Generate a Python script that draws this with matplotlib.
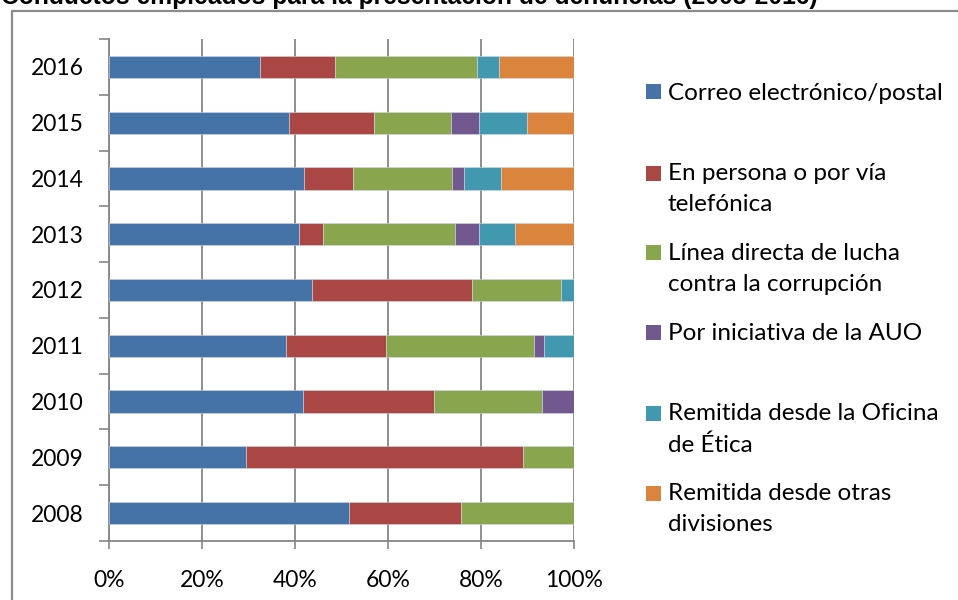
import matplotlib
matplotlib.use("Agg")
import matplotlib.pyplot as plt
import matplotlib.ticker as mticker
from matplotlib.patches import Rectangle
import numpy as np

# ---------------------------------------------------------------------------
# Data (share of complaints per channel, %)
# ---------------------------------------------------------------------------
YEARS = ["2008", "2009", "2010", "2011", "2012", "2013", "2014", "2015", "2016"]

correo  = [51.7, 29.4, 41.7, 38.1, 43.7, 40.9, 41.9, 38.7, 32.4]
persona = [24.1, 59.6, 28.1, 21.4, 34.4,  5.1, 10.5, 18.3, 16.3]
linea   = [24.2, 11.0, 23.4, 32.0, 19.0, 28.4, 21.3, 16.5, 30.4]
auo     = [ 0.0,  0.0,  6.8,  2.1,  0.0,  5.2,  2.6,  6.1,  0.0]
etica   = [ 0.0,  0.0,  0.0,  6.4,  2.9,  7.7,  7.9, 10.3,  4.7]
otras   = [ 0.0,  0.0,  0.0,  0.0,  0.0, 12.7, 15.8, 10.1, 16.2]

SERIES = [correo, persona, linea, auo, etica, otras]
LABELS = [
    "Correo electrónico/postal",
    "En persona o por vía\ntelefónica",
    "Línea directa de lucha\ncontra la corrupción",
    "Por iniciativa de la AUO",
    "Remitida desde la Oficina\nde Ética",
    "Remitida desde otras\ndivisiones",
]
COLORS = ["#4572A7", "#AA4643", "#89A54E", "#71588F", "#4198AF", "#DB843D"]

TITLE = "Conductos empleados para la presentación de denuncias (2008-2016)"
XTICKS = [0, 20, 40, 60, 80, 100]

GRID = "#868686"
FONT = "Lato"
FS = 16.5

W, H = 958, 600
fig = plt.figure(figsize=(W / 100, H / 100), dpi=100)
fig.patch.set_facecolor("white")

# chart area border (extends past right/bottom edges)
fig.add_artist(Rectangle((12 / W, -0.1), 2.0, 1.1 - 11 / H,
                         transform=fig.transFigure, fill=False,
                         edgecolor="#8c8c8c", lw=1.6))

# title, mostly cropped at the top as in the source image
fig.text(1 / W, 1 - 4 / H, TITLE, ha="left", va="baseline",
         fontsize=17.7, fontweight="bold", family="Liberation Sans")

ax = fig.add_axes([109 / W, 1 - 541 / H, 465 / W, 502 / H])

y = np.arange(len(YEARS))
left = np.zeros(len(YEARS))
for vals, col in zip(SERIES, COLORS):
    vals = np.array(vals)
    ax.barh(y, vals, left=left, height=0.4, color=col,
            edgecolor="#d0d8e4", lw=0.4, zorder=3)
    left += vals

ax.set_xlim(0, 100)
ax.set_ylim(-0.5, len(YEARS) - 0.5)

# x axis
ax.set_xticks(XTICKS)
ax.xaxis.set_major_formatter(mticker.FuncFormatter(lambda v, _: f"{v:.0f}%"))
ax.tick_params(axis="x", length=6, width=1.2, color=GRID, pad=15,
               labelsize=FS)
ax.grid(axis="x", color=GRID, lw=1.3, zorder=0)

# y axis: ticks at category boundaries, labels at centres
ax.set_yticks(np.arange(-0.5, len(YEARS)), minor=False)
ax.set_yticklabels([])
ax.set_yticks(y, minor=True)
ax.set_yticklabels(YEARS, minor=True)
ax.tick_params(axis="y", which="major", length=7, width=1.2, color=GRID)
ax.tick_params(axis="y", which="minor", length=0, pad=18, labelsize=FS)

for lab in ax.get_xticklabels() + ax.get_yticklabels(minor=True):
    lab.set_family(FONT)

for s in ["top", "right"]:
    ax.spines[s].set_visible(False)
for s in ["left", "bottom"]:
    ax.spines[s].set_color(GRID)
    ax.spines[s].set_linewidth(1.3)

# legend, laid out like the spreadsheet one
LEG_Y = [92, 173, 253, 332, 413, 493]
for yy, lab, col in zip(LEG_Y, LABELS, COLORS):
    fig.add_artist(Rectangle((646 / W, 1 - (yy + 7.5) / H), 15 / W, 15 / H,
                             transform=fig.transFigure, color=col, lw=0))
    fig.text(668 / W, 1 - (yy - 9.5) / H, lab, ha="left", va="top",
             fontsize=17.5, family=FONT, linespacing=1.56)

fig.savefig("out.png", dpi=100, facecolor="white")
